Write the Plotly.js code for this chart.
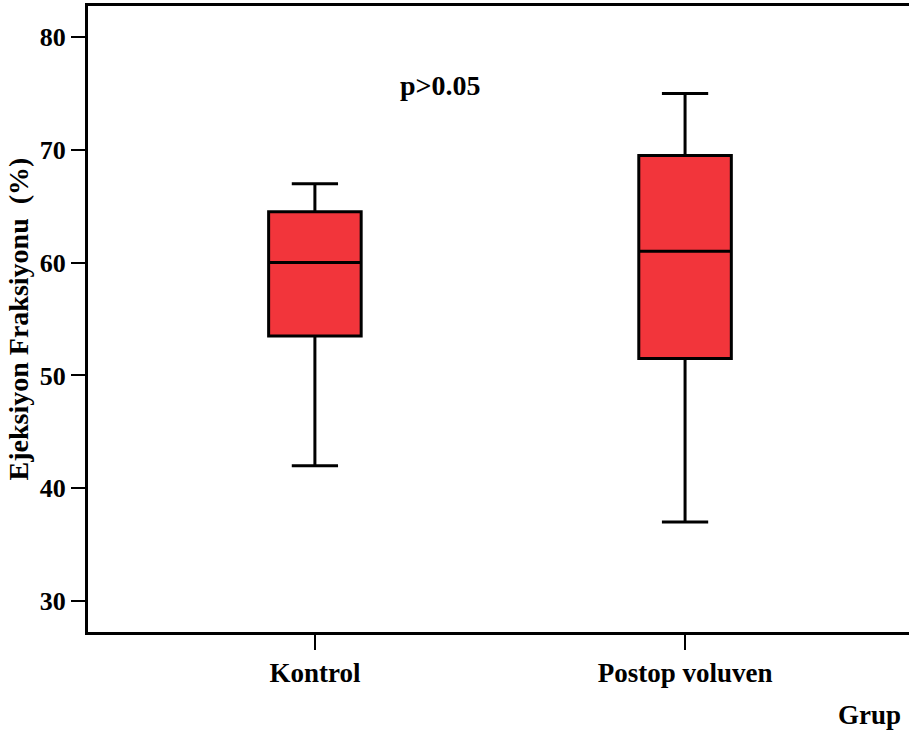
<!DOCTYPE html>
<html><head><meta charset="utf-8">
<script src="https://cdn.plot.ly/plotly-3.0.1.min.js"></script>
<style>body{margin:0;background:#fff}#c{width:909px;height:733px}</style>
</head><body><div id="c"></div>
<script>
const groups = ["Kontrol", "Postop voluven"];
const lowerWhisker = [42, 37];
const q1 = [53.5, 51.5];
const medians = [60, 61];
const q3 = [64.5, 69.5];
const upperWhisker = [67, 75];
const yTicks = [30, 40, 50, 60, 70, 80];

const F = "Liberation Serif, Times New Roman, serif";
const trace = {
  type: "box",
  x: groups,
  q1: q1, median: medians, q3: q3,
  lowerfence: lowerWhisker, upperfence: upperWhisker,
  fillcolor: "#F2353B",
  line: {color: "#000", width: 3},
  width: 0.25,
  whiskerwidth: 0.5,
  boxpoints: false,
  hoverinfo: "skip"
};
const layout = {
  width: 909, height: 733,
  margin: {l: 88, r: 0, t: 6, b: 101},
  paper_bgcolor: "#fff", plot_bgcolor: "#fff",
  showlegend: false,
  font: {family: F, size: 20, color: "#000"},
  xaxis: {
    type: "category", range: [-0.613, 1.605],
    showline: true, linewidth: 3, linecolor: "#000", mirror: true,
    ticks: "outside", ticklen: 15, tickwidth: 2, tickcolor: "#000",
    showgrid: false, zeroline: false,
    tickfont: {family: F, size: 27, color: "#000", weight: "bold"}
  },
  yaxis: {
    range: [27.25, 82.75],
    tickvals: yTicks, ticktext: yTicks.map(String),
    showline: true, linewidth: 3, linecolor: "#000",
    ticks: "outside", ticklen: 14, tickwidth: 2, tickcolor: "#000",
    showgrid: false, zeroline: false,
    tickfont: {family: F, size: 26, color: "#000", weight: "bold"},
    title: {text: "Ejeksiyon Fraksiyonu  (%)", standoff: 3,
            font: {family: F, size: 28, color: "#000", weight: "bold"}}
  },
  annotations: [
    {text: "p>0.05", x: 0.338, y: 75.7, xref: "x", yref: "y", showarrow: false,
     font: {family: F, size: 28, color: "#000", weight: "bold"}},
    {text: "Grup", x: 1, y: 0, xref: "paper", yref: "paper", xanchor: "right", yanchor: "middle",
     xshift: -6, yshift: -83, showarrow: false,
     font: {family: F, size: 27, color: "#000", weight: "bold"}}
  ]
};
Plotly.newPlot("c", [trace], layout, {displayModeBar: false, staticPlot: true});
</script></body></html>
